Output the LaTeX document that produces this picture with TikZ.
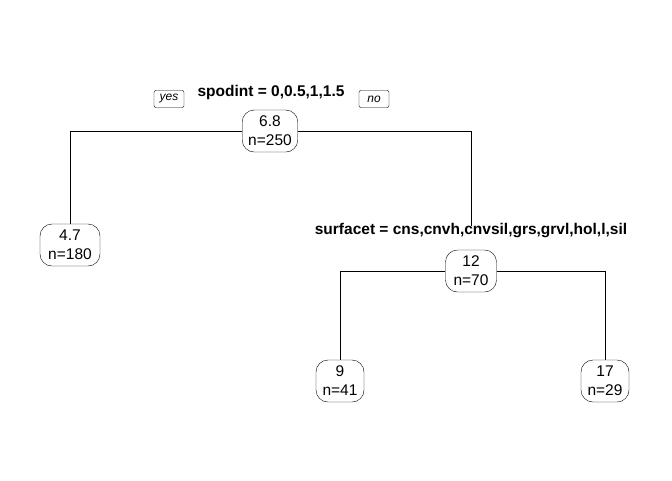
\documentclass[tikz,border=0pt]{standalone}
\usepackage{fontspec}
\setmainfont{Liberation Sans}
\usetikzlibrary{positioning}

\begin{document}
\begin{tikzpicture}[x=1pt, y=-1pt]
    % Define styles
    \tikzset{
        treenode/.style={draw, rounded corners=12pt, align=center, inner xsep=6pt,
            minimum width=48pt, minimum height=42pt,
            font=\fontsize{15.5}{19}\selectfont},
        splitlabel/.style={font=\fontsize{15.5}{19}\selectfont\bfseries, inner sep=2pt},
        answer/.style={draw, rounded corners=2pt, minimum width=30pt, minimum height=17pt,
            inner sep=1pt, font=\fontsize{12}{14}\selectfont\itshape}
    }
    \useasboundingbox (0,0) rectangle (672,480);

    % Root split
    \node[treenode] (root) at (270,131) {6.8\\n=250};
    \node[splitlabel] (lab1) at (271,92) {spodint = 0,0.5,1,1.5};
    \node[answer] (yes) at (169,99) {yes};
    \node[answer] (no) at (374,99) {no};

    % Left leaf
    \node[treenode, minimum width=60pt] (leafA) at (70,245) {4.7\\n=180};

    % Second split
    \node[splitlabel] (lab2) at (471,231) {surfacet = cns,cnvh,cnvsil,grs,grvl,hol,l,sil};
    \node[treenode, minimum width=51pt] (mid) at (471,271) {12\\n=70};

    % Bottom leaves
    \node[treenode] (leafB) at (340,381) {9\\n=41};
    \node[treenode] (leafC) at (605,381) {17\\n=29};

    % Branches
    \draw (root.west) -| (leafA.north);
    \draw (root.east) -| ([yshift=-4pt]lab2.north);
    \draw (mid.west) -| (leafB.north);
    \draw (mid.east) -| (leafC.north);
\end{tikzpicture}
\end{document}
